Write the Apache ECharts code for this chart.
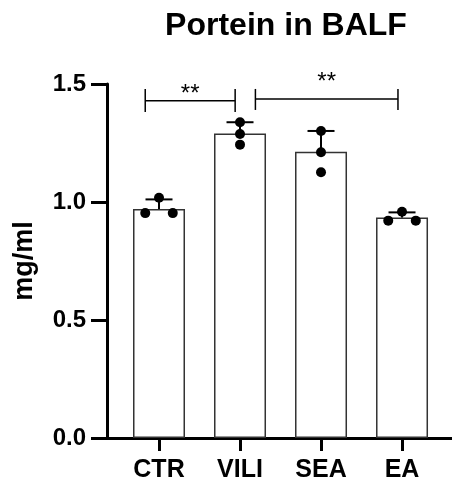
<!DOCTYPE html>
<html>
<head>
<meta charset="utf-8">
<script src="https://cdn.jsdelivr.net/npm/echarts@6/dist/echarts.min.js"></script>
<style>html,body{margin:0;padding:0;background:#fff}#c{width:452px;height:483px}</style>
</head>
<body>
<div id="c"></div>
<script>
var categories = ['CTR', 'VILI', 'SEA', 'EA'];
var means = [0.970, 1.290, 1.213, 0.934];
var sdUpper = [0.041, 0.048, 0.088, 0.022];
var ctrPoints = [1.018, 0.953, 0.953];
var viliPoints = [1.338, 1.288, 1.243];
var seaPoints = [1.301, 1.211, 1.126];
var eaPoints = [0.959, 0.921, 0.921];
var ctrJitter = [0, -0.17, 0.17];
var viliJitter = [0, 0, 0];
var seaJitter = [0, 0, 0];
var eaJitter = [0, -0.17, 0.17];
// brackets: [xStart, xEnd, yLine, yTop, yBottom, yText]
var brackets = [
  [-0.17, 0.94, 1.429, 1.479, 1.381, 1.407],
  [1.19, 2.95, 1.436, 1.479, 1.390, 1.458]
];
var bracketLabels = ['**', '**'];

var font = '"Liberation Sans", Arial, sans-serif';
var groups = [ctrPoints, viliPoints, seaPoints, eaPoints];
var jitters = [ctrJitter, viliJitter, seaJitter, eaJitter];
var pointData = [];
groups.forEach(function (g, i) {
  g.forEach(function (v, k) { pointData.push([i + jitters[i][k], v]); });
});
var barData = means.map(function (m, i) { return [i, m]; });
var errData = means.map(function (m, i) { return [i, m, m + sdUpper[i]]; });
var bracketData = brackets.map(function (b, i) { return b.concat([i]); });

var chart = echarts.init(document.getElementById('c'));
chart.setOption({
  animation: false,
  title: {
    text: 'Portein in BALF', left: 281, top: 5, textAlign: 'center',
    textStyle: { fontFamily: font, fontWeight: 'bold', fontSize: 32, color: '#000' }
  },
  grid: { left: 107, right: 0, top: 84, bottom: 45, containLabel: false },
  xAxis: {
    type: 'value', min: -0.642, max: 3.617,
    splitLine: { show: false },
    axisLine: { show: true, onZero: false, lineStyle: { color: '#000', width: 3 } },
    axisTick: { show: true, customValues: [0, 1, 2, 3], length: 13, lineStyle: { color: '#000', width: 3 } },
    axisLabel: {
      customValues: [0, 1, 2, 3], margin: 20,
      formatter: function (v) { return categories[Math.round(v)]; },
      fontFamily: font, fontWeight: 'bold', fontSize: 25, color: '#000'
    }
  },
  yAxis: {
    type: 'value', min: 0, max: 1.5, interval: 0.5,
    name: 'mg/ml', nameLocation: 'middle', nameGap: 69,
    nameTextStyle: { fontFamily: font, fontWeight: 'bold', fontSize: 27, color: '#000' },
    splitLine: { show: false },
    axisLine: { show: true, onZero: false, lineStyle: { color: '#000', width: 3 } },
    axisTick: { show: true, length: 16, lineStyle: { color: '#000', width: 3 } },
    axisLabel: {
      margin: 21,
      formatter: function (v) { return v.toFixed(1); },
      fontFamily: font, fontWeight: 'bold', fontSize: 24, color: '#000'
    }
  },
  series: [
    {
      type: 'bar', data: barData, barWidth: 52, z: 1,
      itemStyle: { color: '#fff', borderColor: '#333', borderWidth: 1.5 }
    },
    {
      type: 'custom', z: 3, data: errData,
      renderItem: function (params, api) {
        var x = api.value(0);
        var p0 = api.coord([x, api.value(1)]);
        var p1 = api.coord([x, api.value(2)]);
        var hw = 13.5;
        return {
          type: 'group', children: [
            { type: 'line', shape: { x1: p0[0], y1: p0[1], x2: p1[0], y2: p1[1] }, style: { stroke: '#000', lineWidth: 2 } },
            { type: 'line', shape: { x1: p1[0] - hw, y1: p1[1], x2: p1[0] + hw, y2: p1[1] }, style: { stroke: '#000', lineWidth: 2 } }
          ]
        };
      }
    },
    {
      type: 'scatter', data: pointData, symbol: 'circle', symbolSize: 10, z: 4,
      itemStyle: { color: '#000', opacity: 1 }
    },
    {
      type: 'custom', z: 5, data: bracketData,
      renderItem: function (params, api) {
        var a = api.coord([api.value(0), api.value(2)]);
        var b = api.coord([api.value(1), api.value(2)]);
        var t = api.coord([0, api.value(3)])[1];
        var bt = api.coord([0, api.value(4)])[1];
        var tx = api.coord([(api.value(0) + api.value(1)) / 2, api.value(5)]);
        var st = { stroke: '#000', lineWidth: 1.5 };
        return {
          type: 'group', children: [
            { type: 'line', shape: { x1: a[0], y1: a[1], x2: b[0], y2: b[1] }, style: st },
            { type: 'line', shape: { x1: a[0], y1: t, x2: a[0], y2: bt }, style: st },
            { type: 'line', shape: { x1: b[0], y1: t, x2: b[0], y2: bt }, style: st },
            { type: 'text', x: tx[0], y: tx[1], style: { text: bracketLabels[api.value(6)], x: 0, y: 0, align: 'center', verticalAlign: 'bottom', font: 'normal 24px ' + font, fill: '#000' } }
          ]
        };
      }
    }
  ]
});
</script>
</body>
</html>
